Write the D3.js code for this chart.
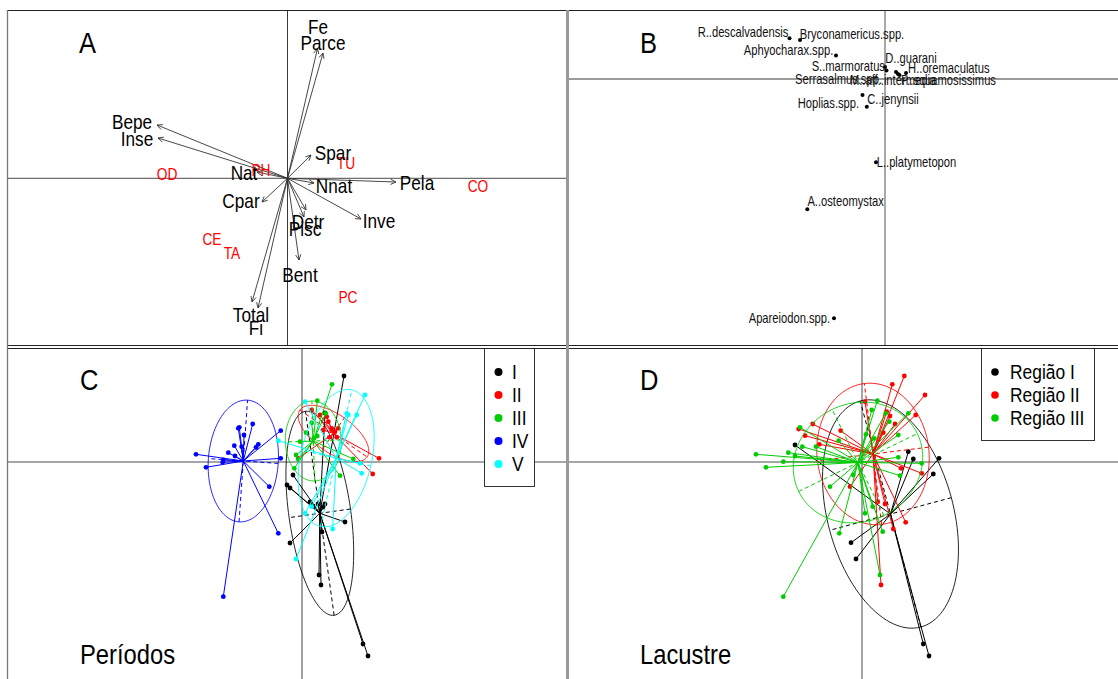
<!DOCTYPE html>
<html><head><meta charset="utf-8">
<script src="https://cdn.jsdelivr.net/npm/d3@7"></script>
<style>body{margin:0;background:#fff} svg{display:block} text{font-family:"Liberation Sans",Arial,sans-serif}</style>
</head><body><svg id="c" width="1118" height="679"></svg>
<script>
// ---------- Panel A : variables (arrows) and sites ----------
const envVars = ["Fe","Parce","Bepe","Inse","Nat","Cpar","Spar","Nnat","Pela","Inve","Detr","Pisc","Bent","Total","Fi"];
const envX = [0.30,0.355,-1.305,-1.295,-0.305,-0.255,0.235,0.265,1.085,0.735,0.185,0.165,0.115,-0.355,-0.295];
const envY = [1.30,1.253,0.533,0.403,0.063,-0.237,0.233,-0.047,-0.037,-0.407,-0.317,-0.387,-0.817,-1.237,-1.297];
const envLabelOffset = [[0.5,-21],[0,-10],[-25,-3],[-21,1],[-13,1],[-21,-1],[22,-2],[20,3],[21,1],[18,2],[2,12],[1,12],[1,15],[-1,13],[-2,20]];
const siteLabels = ["OD","PH","TU","CO","CE","TA","PC"];
const siteX = [-1.205,-0.265,0.585,1.905,-0.755,-0.555,0.605];
const siteY = [0.043,0.083,0.153,-0.077,-0.607,-0.747,-1.187];

// ---------- Panel B : species ----------
const species = ["R..descalvadensis","Bryconamericus.spp.","Aphyocharax.spp.","S..marmoratus","Serrasalmus.spp.","D..guarani","M..aff..intermedia","P..squamosissimus","H..oremaculatus","C..jenynsii","Hoplias.spp.","L..platymetopon","A..osteomystax","Apareiodon.spp."];
const spX = [-0.955,-0.85,-0.49,0.0,0.015,0.11,0.13,0.145,0.21,-0.225,-0.182,-0.09,-0.777,-0.51];
const spY = [0.407,0.39,0.235,0.12,0.085,0.07,0.05,0.04,0.06,-0.16,-0.277,-0.833,-1.303,-2.393];
const spLabelOffset = [[-46.5,-6],[52,-6.5],[-47.5,-6],[-36.7,-1.3],[-48,8.5],[15,-14.3],[-5,6],[49,5],[42.8,-4.7],[30.5,4],[-38.4,-4],[40.5,0],[38.3,-8.3],[-44.6,0]];

// ---------- Panel C : periods ----------
const periods = ["I","II","III","IV","V"];
const periodColors = ["#000000","#FF0000","#00CD00","#0000FF","#00FFFF"];
const perI = [[0.42,0.86],[0.23,0.49],[-0.09,-0.13],[-0.15,-0.23],[-0.12,-0.26],[0.08,-0.40],[0.11,-0.44],[0.16,-0.42],[0.23,-0.42],[0.21,-0.45],[0.43,-0.60],[0.20,-0.70],[-0.12,-0.81],[0.17,-1.13],[0.19,-1.23],[0.61,-1.82],[0.66,-1.94]];
const perII = [[0.097,0.52],[0.18,0.47],[0.247,0.453],[0.263,0.403],[0.213,0.32],[0.297,0.337],[0.33,0.303],[0.363,0.337],[0.273,0.247],[0.347,0.247],[0.77,0.037],[0.707,-0.12],[-0.037,0.037]];
const perIII = [[0.30,0.777],[0.153,0.613],[0.237,0.487],[0.04,0.293],[0.12,0.237],[0.153,0.26],[-0.02,0.203],[-0.06,0.07],[-0.037,0.027],[-0.077,-0.063],[0.38,-0.137],[0.513,0.03],[0.097,0.393]];
const perIV = [[-1.06,0.077],[-0.96,-0.053],[-0.793,-0.003],[-0.787,0.02],[-0.737,0.093],[-0.677,0.163],[-0.67,0.06],[-0.637,0.337],[-0.627,0.347],[-0.603,0.153],[-0.58,0.27],[-0.493,0.38],[-0.46,0.147],[-0.437,0.177],[-0.213,0.313],[-0.213,0.037],[-0.327,-0.247],[-0.237,-0.713],[-0.787,-1.347]];
const perV = [[0.63,0.67],[0.547,0.47],[0.447,0.487],[0.463,0.47],[0.03,0.603],[-0.237,0.213],[0.597,-0.113],[0.58,-0.013],[0.03,-0.513],[0.307,-0.67],[-0.06,-0.97],[0.097,-0.447]];
const perCenters = [[0.178,-0.513],[0.315,0.285],[0.113,0.21],[-0.587,0.01],[0.342,0.038]];
const perEllA = [1.03,0.41,0.40,0.61,0.70];
const perEllB = [0.31,0.19,0.28,0.35,0.355];
const perEllAngle = [98,-35,92,86,77];

// ---------- Panel D : regions ----------
const regions = ["Região I","Região II","Região III"];
const regionColors = ["#000000","#FF0000","#00CD00"];
const regI = [[-0.67,0.17],[0.463,0.103],[0.513,0.03],[0.77,0.037],[0.713,-0.12],[-0.11,-0.807],[-0.06,-0.97],[0.613,-1.82],[0.67,-1.94]];
const regII = [[0.423,0.86],[0.303,0.777],[0.63,0.67],[0.03,0.603],[0.537,0.47],[0.247,0.503],[0.28,0.46],[-0.493,0.38],[-0.633,0.33],[-0.57,0.263],[-0.213,0.313],[-0.427,0.177],[0.33,0.38],[0.213,0.293],[0.39,-0.063],[0.597,-0.113],[-0.12,-0.247],[0.157,-0.397],[0.23,-0.42],[0.437,-0.603],[0.313,-0.67],[0.19,-1.23]];
const regIII = [[-1.06,0.077],[-0.96,-0.053],[-0.787,0.003],[-0.737,0.093],[-0.62,0.347],[-0.67,0.06],[-0.597,0.153],[-0.46,0.153],[-0.233,0.213],[0.153,0.613],[0.097,0.52],[0.237,0.487],[0.463,0.487],[0.273,0.403],[0.363,0.27],[0.04,0.277],[0.12,0.237],[0.363,0.047],[0.597,-0.013],[0.38,-0.137],[-0.32,-0.247],[0.03,-0.513],[0.107,-0.447],[0.207,-0.697],[-0.227,-0.713],[0.18,-1.13],[-0.787,-1.347],[-0.087,-0.13]];
const regCenters = [[0.285,-0.52],[0.11,0.08],[-0.04,-0.005]];
const regEllA = [1.17,0.71,0.66];
const regEllB = [0.63,0.56,0.59];
const regEllAngle = [105,97,26];

// ---------- drawing ----------
const svg = d3.select("#c");
const FONT_SX = 0.86;

function txt(g, x, y, s, size, color, anchor, sx) {
  g.append("text").attr("transform", `translate(${x},${y}) scale(${sx||FONT_SX},1)`)
    .attr("text-anchor", anchor || "middle").attr("font-size", size).attr("fill", color || "#000").text(s);
}

function panel(id, box, xDom, yDom) {
  const cp = svg.append("clipPath").attr("id", "clip" + id);
  cp.append("rect").attr("x", box[0]).attr("y", box[1]).attr("width", box[2] - box[0]).attr("height", box[3] - box[1]);
  const g = svg.append("g").attr("clip-path", `url(#clip${id})`);
  const x = d3.scaleLinear().domain(xDom).range([box[0], box[2]]);
  const y = d3.scaleLinear().domain(yDom).range([box[3], box[1]]);
  return {g, x, y, box};
}

function axesLines(p, hColor, hW, vColor, vW) {
  p.g.append("line").attr("x1", p.box[0]).attr("x2", p.box[2]).attr("y1", p.y(0)).attr("y2", p.y(0))
    .attr("stroke", hColor).attr("stroke-width", hW);
  p.g.append("line").attr("y1", p.box[1]).attr("y2", p.box[3]).attr("x1", p.x(0)).attr("x2", p.x(0))
    .attr("stroke", vColor).attr("stroke-width", vW);
}

// Panels
const A = panel("A", [8, 10, 566, 346], [-2.795, 2.785], [-1.677, 1.683]);
const B = panel("B", [569, 10, 1130, 346], [-3.16, 2.45], [-2.67, 0.69]);
const C = panel("C", [8, 348, 566, 700], [-2.94, 2.64], [-2.38, 1.14]);
const D = panel("D", [569, 348, 1130, 700], [-2.93, 2.68], [-2.38, 1.14]);

axesLines(A, "#6e6e6e", 1.3, "#222", 0.9);
axesLines(B, "#7a7a7a", 1.3, "#7a7a7a", 1.3);
axesLines(C, "#888", 1.6, "#8a8a8a", 1.6);
axesLines(D, "#888", 1.6, "#333", 0.9);

// Panel A arrows
envVars.forEach((v, i) => {
  const x0 = A.x(0), y0 = A.y(0), x1 = A.x(envX[i]), y1 = A.y(envY[i]);
  A.g.append("line").attr("x1", x0).attr("y1", y0).attr("x2", x1).attr("y2", y1)
    .attr("stroke", "#333").attr("stroke-width", 0.9);
  const ang = Math.atan2(y1 - y0, x1 - x0), L = 6, w = 0.45;
  const pts = [[x1 - L * Math.cos(ang - w), y1 - L * Math.sin(ang - w)], [x1, y1], [x1 - L * Math.cos(ang + w), y1 - L * Math.sin(ang + w)]];
  A.g.append("path").attr("d", d3.line()(pts)).attr("fill", "none").attr("stroke", "#333").attr("stroke-width", 0.9);
});
siteLabels.forEach((s, i) => txt(A.g, A.x(siteX[i]), A.y(siteY[i]) + 6, s, 16, "#FF0000", "middle", 0.86));
envVars.forEach((v, i) => txt(A.g, A.x(envX[i]) + envLabelOffset[i][0], A.y(envY[i]) + envLabelOffset[i][1] + 7, v, 20, "#000", "middle", 0.86));
txt(A.g, 79, 53, "A", 29, "#000", "start", 0.88);

// Panel B species
species.forEach((s, i) => {
  B.g.append("circle").attr("cx", B.x(spX[i])).attr("cy", B.y(spY[i])).attr("r", 2).attr("fill", "#000");
});
species.forEach((s, i) => txt(B.g, B.x(spX[i]) + spLabelOffset[i][0], B.y(spY[i]) + spLabelOffset[i][1] + 5, s, 14, "#111", "middle", 0.8));
txt(B.g, 640, 53, "B", 29, "#000", "start", 0.88);

// class plots
function ellipsePath(p, c, a, b, angDeg) {
  const th = angDeg * Math.PI / 180, pts = [];
  for (let k = 0; k <= 120; k++) {
    const t = k / 120 * 2 * Math.PI;
    const ex = c[0] + a * Math.cos(t) * Math.cos(th) - b * Math.sin(t) * Math.sin(th);
    const ey = c[1] + a * Math.cos(t) * Math.sin(th) + b * Math.sin(t) * Math.cos(th);
    pts.push([p.x(ex), p.y(ey)]);
  }
  return d3.line()(pts);
}
function classGroup(p, pts, c, a, b, ang, col) {
  const g = p.g.append("g");
  pts.forEach(q => g.append("line").attr("x1", p.x(c[0])).attr("y1", p.y(c[1])).attr("x2", p.x(q[0])).attr("y2", p.y(q[1]))
    .attr("stroke", col).attr("stroke-width", 1));
  g.append("path").attr("d", ellipsePath(p, c, a, b, ang)).attr("fill", "none").attr("stroke", col).attr("stroke-width", 1).attr("stroke-opacity", 0.85);
  const th = ang * Math.PI / 180;
  [[a, th], [b, th + Math.PI / 2]].forEach(([r, t]) => {
    g.append("line").attr("x1", p.x(c[0] - r * Math.cos(t))).attr("y1", p.y(c[1] - r * Math.sin(t)))
      .attr("x2", p.x(c[0] + r * Math.cos(t))).attr("y2", p.y(c[1] + r * Math.sin(t)))
      .attr("stroke", col).attr("stroke-width", 1).attr("stroke-dasharray", "4,3");
  });
  pts.forEach(q => g.append("circle").attr("cx", p.x(q[0])).attr("cy", p.y(q[1])).attr("r", 2.4).attr("fill", col));
}

const perData = [perI, perII, perIII, perIV, perV];
perData.forEach((pts, i) => classGroup(C, pts, perCenters[i], perEllA[i], perEllB[i], perEllAngle[i], periodColors[i]));
const regData = [regI, regII, regIII];
regData.forEach((pts, i) => classGroup(D, pts, regCenters[i], regEllA[i], regEllB[i], regEllAngle[i], regionColors[i]));

txt(C.g, 80, 390, "C", 29, "#000", "start", 0.88);
txt(D.g, 640, 390, "D", 29, "#000", "start", 0.88);
txt(C.g, 80, 664, "Períodos", 27, "#000", "start", 0.88);
txt(D.g, 640, 664, "Lacustre", 27, "#000", "start", 0.88);

// legends
const legC = svg.append("g");
legC.append("rect").attr("x", 484.5).attr("y", 348.5).attr("width", 50).attr("height", 138).attr("fill", "#fff").attr("stroke", "#333");
periods.forEach((s, i) => {
  legC.append("circle").attr("cx", 498.5).attr("cy", 372 + i * 23).attr("r", 4).attr("fill", periodColors[i]);
  txt(legC, 512, 372 + i * 23 + 7, s, 20, "#000", "start", 0.87);
});
const legD = svg.append("g");
legD.append("rect").attr("x", 981.5).attr("y", 348.5).attr("width", 113).attr("height", 92).attr("fill", "#fff").attr("stroke", "#333");
regions.forEach((s, i) => {
  legD.append("circle").attr("cx", 995).attr("cy", 372 + i * 23).attr("r", 3.8).attr("fill", regionColors[i]);
  txt(legD, 1010, 372 + i * 23 + 7, s, 20, "#000", "start", 0.87);
});

// frames
const fr = svg.append("g").attr("fill", "none");
[[10.5, 8, 566], [345.5, 8, 566], [10.5, 569, 1118], [345.5, 569, 1118], [348.5, 8, 566], [348.5, 569, 1118]].forEach(([yy, a, b]) =>
  fr.append("line").attr("x1", a).attr("x2", b).attr("y1", yy).attr("y2", yy).attr("stroke", "#222").attr("stroke-width", 1.2));
fr.append("line").attr("x1", 7.5).attr("x2", 7.5).attr("y1", 10).attr("y2", 679).attr("stroke", "#777").attr("stroke-width", 1.3);
svg.append("rect").attr("x", 566).attr("y", 10).attr("width", 3).attr("height", 669).attr("fill", "#9a9a9a");
</script></body></html>
